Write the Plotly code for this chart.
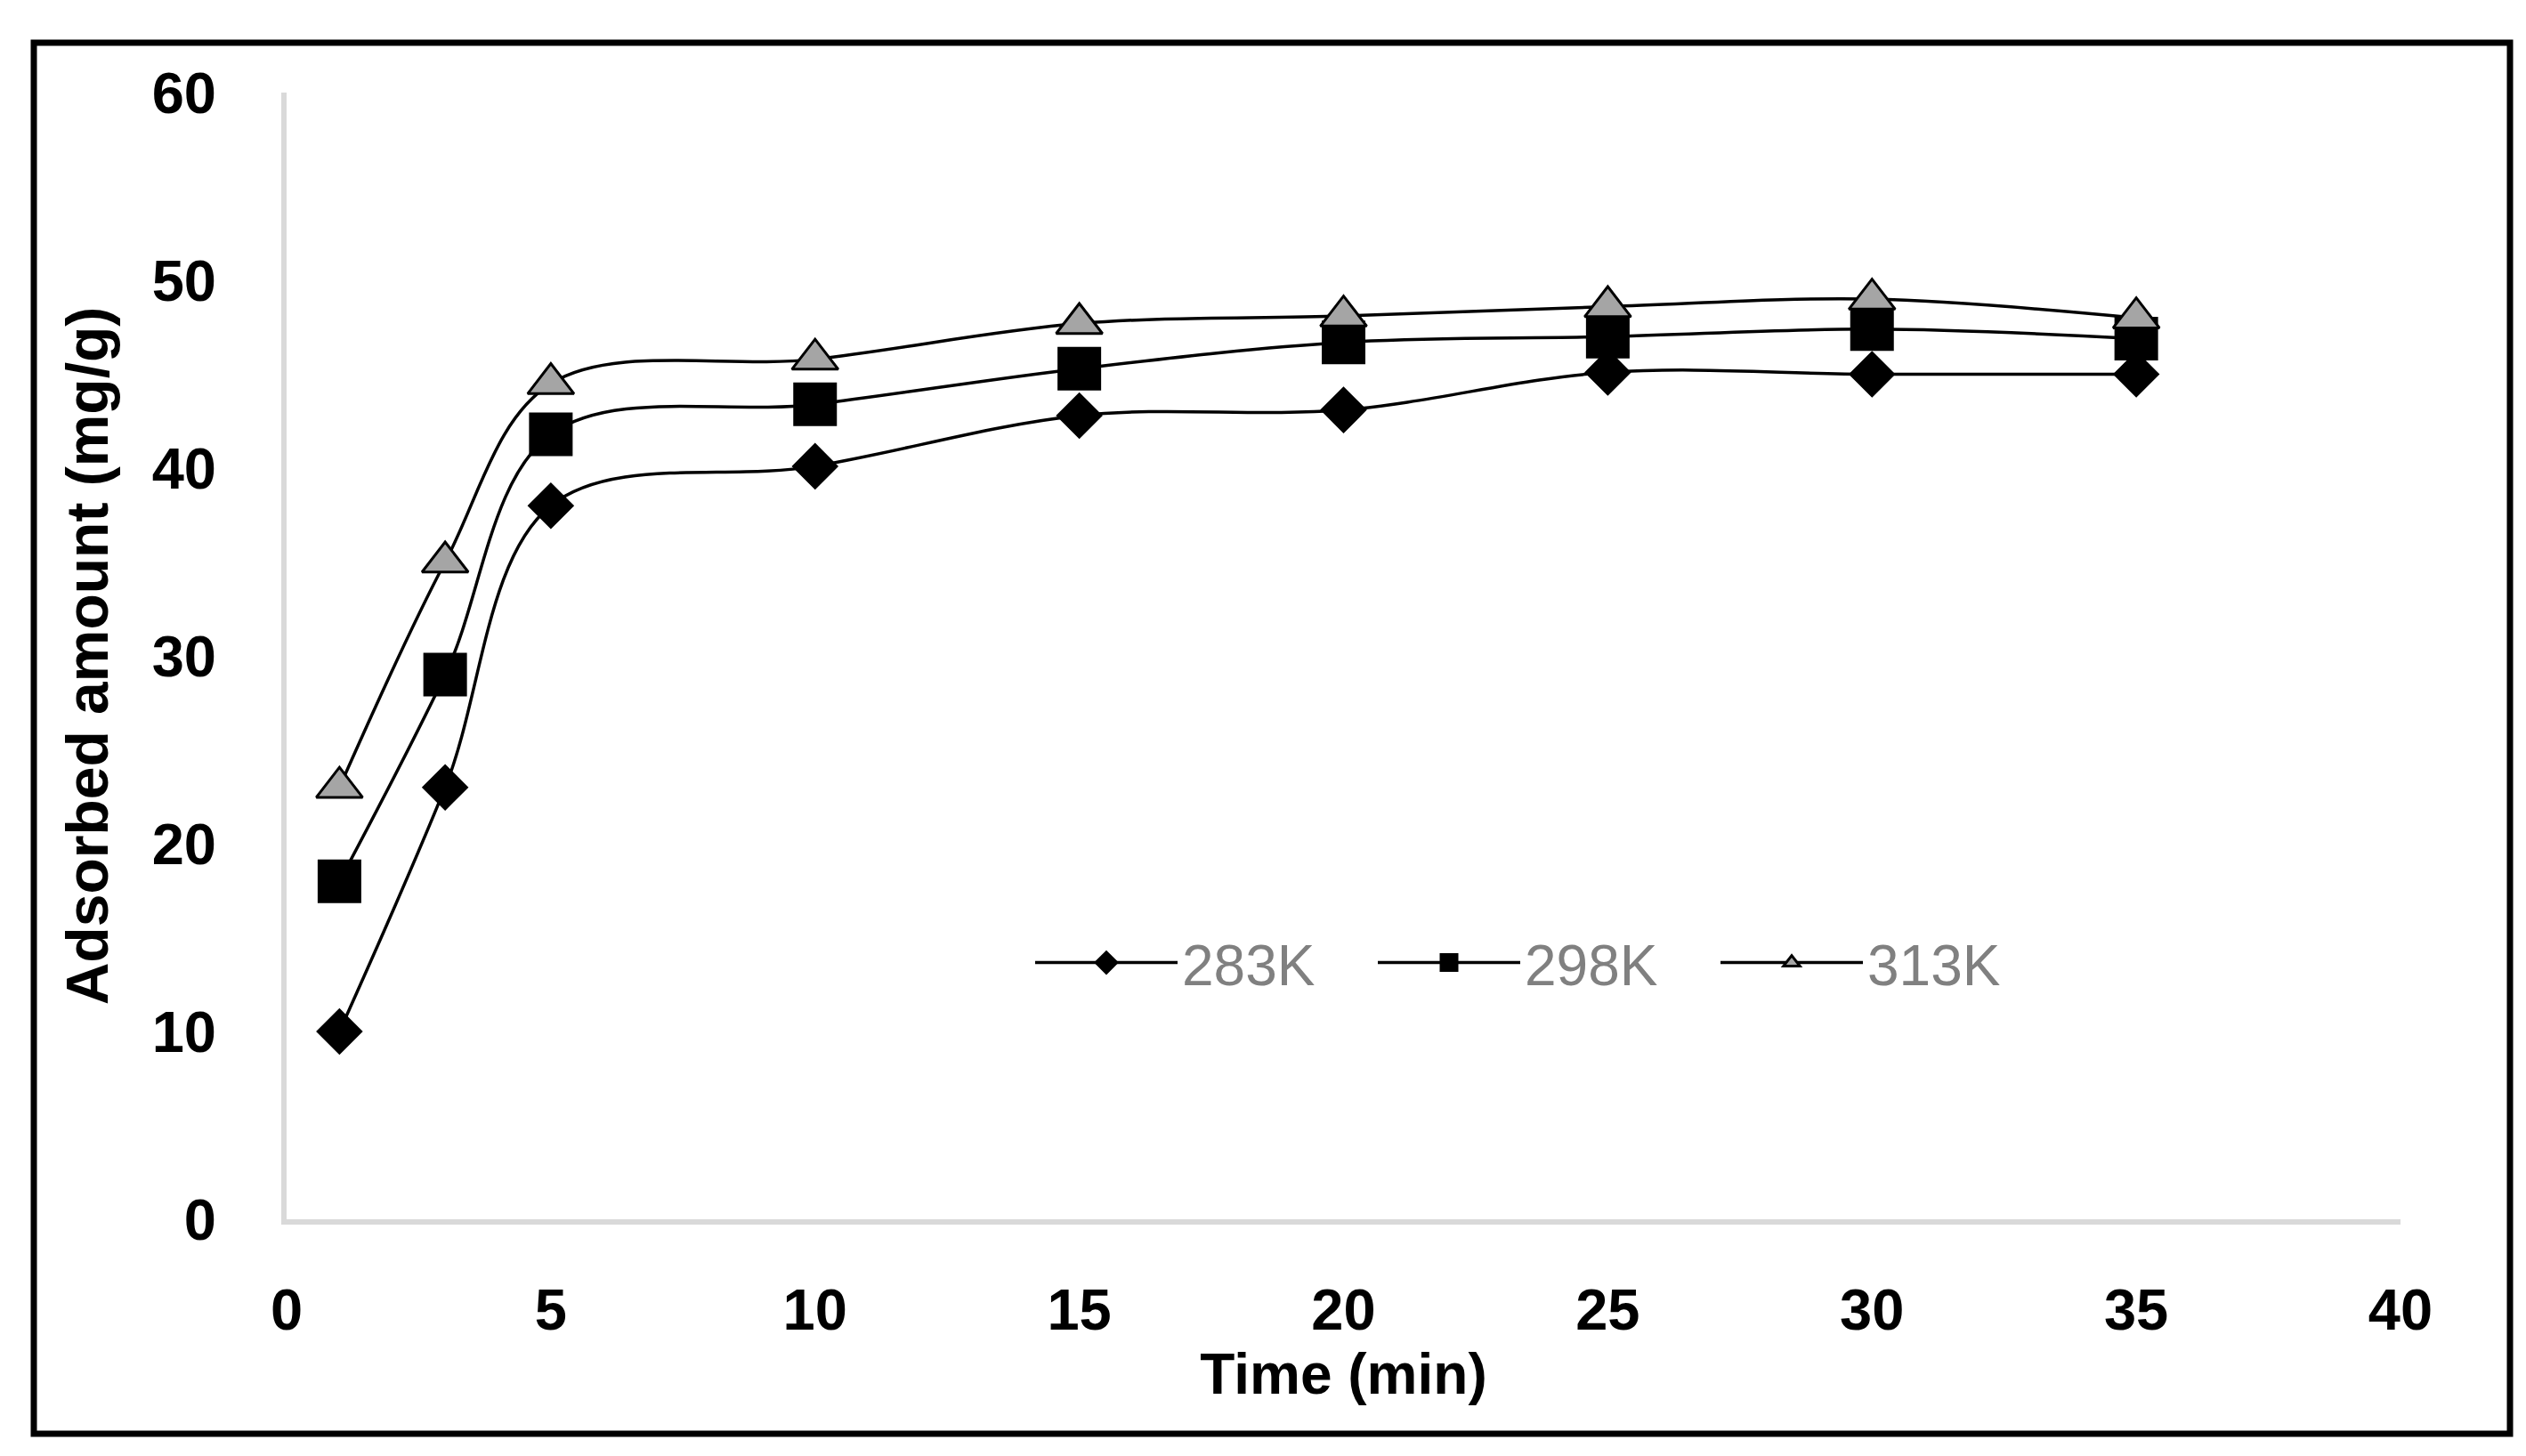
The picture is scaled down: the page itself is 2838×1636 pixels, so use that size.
import plotly.graph_objects as go

time_min = [1, 3, 5, 10, 15, 20, 25, 30, 35]
q_283K = [10, 23, 38, 40.1, 42.8, 43.1, 45.1, 45, 45]
q_298K = [18, 29, 41.8, 43.4, 45.3, 46.7, 47, 47.4, 46.9]
q_313K = [23, 35, 44.5, 45.8, 47.7, 48.1, 48.6, 49, 48]

x_ticks = [0, 5, 10, 15, 20, 25, 30, 35, 40]
y_ticks = [0, 10, 20, 30, 40, 50, 60]

W, H = 2838, 1636
ML, MR, MT, MB = 314, 149, 96, 274
pw = W - ML - MR
ph = H - MT - MB

def px_x(p):
    return (p - ML) / pw

def px_y(p):
    return (H - MB - p) / ph

fig = go.Figure()
line_style = dict(color="black", width=3.5, shape="spline", smoothing=1)
fig.add_trace(go.Scatter(x=time_min, y=q_283K, name="283K", mode="lines+markers",
                         line=line_style,
                         marker=dict(symbol="diamond", size=35, color="black",
                                     line=dict(color="black", width=5))))
fig.add_trace(go.Scatter(x=time_min, y=q_298K, name="298K", mode="lines+markers",
                         line=line_style,
                         marker=dict(symbol="square", size=44, color="black",
                                     line=dict(color="black", width=5))))
fig.add_trace(go.Scatter(x=time_min, y=q_313K, name="313K", mode="lines+markers",
                         line=line_style,
                         marker=dict(symbol="triangle-up", size=45, color="#a5a5a5",
                                     line=dict(color="black", width=3))))

tick_font = dict(family="Liberation Sans, Arial, sans-serif", size=65, color="black", weight="bold")
title_font = dict(family="Liberation Sans, Arial, sans-serif", size=64, color="black", weight="bold")

fig.update_layout(
    width=W, height=H,
    margin=dict(l=ML, r=MR, t=MT, b=MB),
    paper_bgcolor="white", plot_bgcolor="white",
    showlegend=True,
    legend=dict(orientation="h", x=px_x(1150), y=px_y(1074), xanchor="left", yanchor="middle",
                font=dict(family="Liberation Sans, Arial, sans-serif", size=64, color="#808080"),
                itemwidth=160, entrywidth=210, entrywidthmode="pixels",
                bgcolor="rgba(0,0,0,0)", borderwidth=0),
    xaxis=dict(range=[0, 40], tickvals=x_ticks, ticktext=[str(v) for v in x_ticks],
               showgrid=False, zeroline=False, showline=True, linecolor="#d9d9d9", linewidth=6,
               ticks="", tickfont=tick_font, ticklabelstandoff=40,
               title=dict(text="Time (min)", font=title_font, standoff=10)),
    yaxis=dict(range=[0, 60], tickvals=y_ticks, ticktext=[str(v) for v in y_ticks],
               showgrid=False, zeroline=False, showline=True, linecolor="#d9d9d9", linewidth=6,
               ticks="", tickfont=tick_font, ticklabelstandoff=60,
               title=dict(text="Adsorbed amount (mg/g)",
                          font=dict(family="Liberation Sans, Arial, sans-serif", size=66,
                                    color="black", weight="bold"), standoff=30)),
    shapes=[dict(type="rect", xref="paper", yref="paper",
                 x0=px_x(30), x1=px_x(2812), y0=px_y(1603), y1=px_y(40),
                 line=dict(color="black", width=7), fillcolor="rgba(0,0,0,0)", layer="above")],
)

fig.write_html("out.html")
